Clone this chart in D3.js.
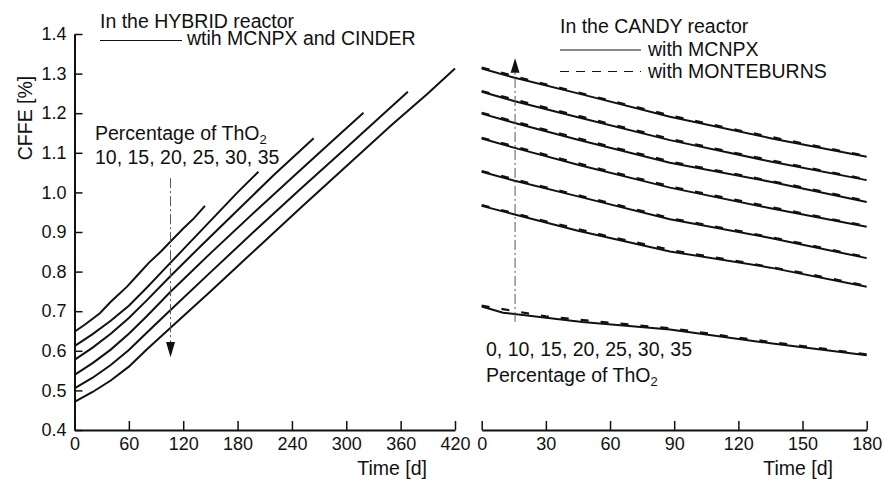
<!DOCTYPE html>
<meta charset="utf-8">
<html>
<head>
<title>CFFE</title>
<style>
  body { margin: 0; background: #fff; }
  text { font-family: "Liberation Sans", Arial, sans-serif; fill: #111; }
  .axis path, .axis line { stroke: #111; }
  .axis text { font-size: 18px; font-family: "Liberation Sans", Arial, sans-serif; fill: #111; }
</style>
<script src="https://cdn.jsdelivr.net/npm/d3@7/dist/d3.min.js"></script>
</head>
<body>
<script>
// HYBRID reactor, MCNPX + CINDER  [time d, CFFE %]
var hyb10 = [[0,0.648],[12,0.667],[28,0.695],[40,0.724],[58,0.762],[70,0.792],[82,0.822],[96,0.852],[106,0.876],[120,0.909],[132,0.935],[144,0.966]]
var hyb15 = [[0,0.612],[20,0.642],[40,0.676],[60,0.714],[80,0.760],[100,0.808],[120,0.856],[140,0.904],[160,0.952],[180,1.000],[203,1.052]]
var hyb20 = [[0,0.577],[20,0.608],[40,0.643],[60,0.683],[80,0.728],[106,0.789],[140,0.866],[180,0.955],[220,1.044],[264,1.137]]
var hyb25 = [[0,0.539],[20,0.569],[40,0.603],[60,0.643],[80,0.688],[106,0.749],[150,0.846],[200,0.953],[250,1.058],[290,1.141],[319,1.201]]
var hyb30 = [[0,0.505],[20,0.532],[40,0.564],[60,0.602],[80,0.646],[106,0.703],[150,0.798],[200,0.905],[250,1.010],[300,1.113],[340,1.196],[368,1.254]]
var hyb35 = [[0,0.471],[20,0.496],[40,0.525],[60,0.560],[80,0.604],[106,0.658],[150,0.750],[200,0.856],[250,0.962],[300,1.066],[350,1.170],[390,1.250],[420,1.313]]

// CANDY reactor, MCNPX
var mc0  = [[0,0.712],[10,0.696],[47,0.673],[88,0.654],[135,0.619],[180,0.589]]
var mc10 = [[0,0.966],[15,0.945],[45,0.903],[88,0.851],[135,0.810],[180,0.762]]
var mc15 = [[0,1.052],[15,1.030],[45,0.990],[88,0.932],[135,0.885],[180,0.834]]
var mc20 = [[0,1.136],[15,1.113],[45,1.070],[88,1.012],[135,0.960],[180,0.913]]
var mc25 = [[0,1.199],[15,1.176],[45,1.133],[88,1.075],[135,1.027],[180,0.976]]
var mc30 = [[0,1.254],[15,1.231],[45,1.190],[88,1.132],[135,1.078],[180,1.031]]
var mc35 = [[0,1.313],[15,1.290],[45,1.250],[88,1.191],[135,1.137],[180,1.090]]

// CANDY reactor, MONTEBURNS
var mbTime = [0, 30, 60, 90, 120, 150, 180]
var mb0  = [0.714, 0.687, 0.671, 0.656, 0.633, 0.612, 0.591]
var mb10 = [0.968, 0.927, 0.888, 0.853, 0.826, 0.797, 0.764]
var mb15 = [1.054, 1.013, 0.973, 0.933, 0.903, 0.871, 0.836]
var mb20 = [1.138, 1.095, 1.053, 1.013, 0.980, 0.947, 0.915]
var mb25 = [1.201, 1.158, 1.116, 1.076, 1.045, 1.013, 0.978]
var mb30 = [1.256, 1.214, 1.173, 1.133, 1.098, 1.065, 1.033]
var mb35 = [1.315, 1.273, 1.232, 1.192, 1.157, 1.124, 1.092]

var yTicks = [0.4, 0.5, 0.6, 0.7, 0.8, 0.9, 1.0, 1.1, 1.2, 1.3, 1.4]
var xTicksL = [0, 60, 120, 180, 240, 300, 360, 420]
var xTicksR = [0, 30, 60, 90, 120, 150, 180]

var svg = d3.select("body").append("svg")
    .attr("width", 884)
    .attr("height", 479)

var y = d3.scaleLinear().domain([0.4, 1.4]).range([430, 34])
var xL = d3.scaleLinear().domain([0, 420]).range([74.5, 455])
var xR = d3.scaleLinear().domain([0, 180]).range([481.7, 866.7])

// axes
function minorAxis(axis, scale, step, size){
    var d = scale.domain()
    return axis(scale).tickValues(d3.range(d[0], d[1] + 1e-9, step))
        .tickSizeInner(size).tickSizeOuter(0).tickFormat("")
}

var gy = svg.append("g").attr("class", "axis").attr("transform", "translate(74.5,0)")
gy.call(minorAxis(d3.axisLeft, y, 0.02, -5))
gy.call(d3.axisLeft(y).tickValues(yTicks).tickFormat(d3.format(".1f"))
    .tickSizeInner(-8).tickSizeOuter(0).tickPadding(8))
gy.selectAll("path").attr("stroke-width", 2)
gy.selectAll("line").attr("stroke-width", 1.5)

function bottomAxis(scale, ticks, minorStep){
    var g = svg.append("g").attr("class", "axis").attr("transform", "translate(0,430)")
    g.call(minorAxis(d3.axisBottom, scale, minorStep, -5))
    g.call(d3.axisBottom(scale).tickValues(ticks).tickFormat(d3.format("d"))
        .tickSizeInner(-9).tickSizeOuter(0).tickPadding(7))
    g.selectAll("path").attr("stroke-width", 2)
    g.selectAll("line").attr("stroke-width", 1.5)
    return g
}
bottomAxis(xL, xTicksL, 12)
bottomAxis(xR, xTicksR, 6)

// lines
var lineL = d3.line().x(d => xL(d[0])).y(d => y(d[1]))
var lineR = d3.line().x(d => xR(d[0])).y(d => y(d[1]))

svg.selectAll(".hyb")
    .data([hyb10, hyb15, hyb20, hyb25, hyb30, hyb35]).enter()
    .append("path")
    .attr("class", "hyb")
    .attr("d", lineL)
    .attr("fill", "none")
    .attr("stroke", "#111")
    .attr("stroke-width", 2)

svg.selectAll(".mc")
    .data([mc0, mc10, mc15, mc20, mc25, mc30, mc35]).enter()
    .append("path")
    .attr("class", "mc")
    .attr("d", lineR)
    .attr("fill", "none")
    .attr("stroke", "#111")
    .attr("stroke-width", 2)

svg.selectAll(".mb")
    .data([mb0, mb10, mb15, mb20, mb25, mb30, mb35].map(s => s.map((v, i) => [mbTime[i], v]))).enter()
    .append("path")
    .attr("class", "mb")
    .attr("d", lineR)
    .attr("fill", "none")
    .attr("stroke", "#111")
    .attr("stroke-width", 2.2)
    .attr("stroke-dasharray", "8,12")

// arrows
function arrow(x, yFrom, yTo, yBase){
    svg.append("line")
        .attr("x1", x).attr("x2", x)
        .attr("y1", y(yFrom)).attr("y2", y(yBase))
        .attr("stroke", "#555").attr("stroke-width", 1)
        .attr("stroke-dasharray", "10,3,2,3")
    svg.append("path")
        .attr("d", "M" + (x - 4.5) + "," + y(yBase) + "L" + (x + 4.5) + "," + y(yBase) + "L" + x + "," + y(yTo) + "Z")
        .attr("fill", "#111")
}
arrow(xL(106), 1.036, 0.584, 0.622)
arrow(xR(15.6), 0.673, 1.339, 1.302)

// texts
var fs = 19.5
function label(x, yy, txt, sub){
    var t = svg.append("text").attr("x", x).attr("y", yy).attr("font-size", fs).text(txt)
    if (sub) t.append("tspan").attr("font-size", 13).attr("dy", 4).text(sub)
    return t
}
label(100, 28, "In the HYBRID reactor")
svg.append("line").attr("x1", 100).attr("x2", 182).attr("y1", 40.5).attr("y2", 40.5)
    .attr("stroke", "#111").attr("stroke-width", 1)
label(187, 45, "wtih MCNPX and CINDER")
label(95, 140, "Percentage of ThO", "2")
label(95, 164, "10, 15, 20, 25, 30, 35")

label(560, 33, "In the CANDY reactor")
svg.append("line").attr("x1", 560).attr("x2", 641).attr("y1", 50).attr("y2", 50)
    .attr("stroke", "#111").attr("stroke-width", 1)
label(648, 56, "with MCNPX")
svg.append("line").attr("x1", 560).attr("x2", 641).attr("y1", 71.5).attr("y2", 71.5)
    .attr("stroke", "#111").attr("stroke-width", 1).attr("stroke-dasharray", "9,7")
label(648, 78, "with MONTEBURNS")
label(486, 356, "0, 10, 15, 20, 25, 30, 35")
label(486, 382, "Percentage of ThO", "2")

svg.append("text").attr("font-size", fs)
    .attr("transform", "translate(32,118) rotate(-90)")
    .attr("text-anchor", "middle")
    .text("CFFE [%]")
svg.append("text").attr("font-size", fs).attr("x", 427).attr("y", 475)
    .attr("text-anchor", "end").text("Time [d]")
svg.append("text").attr("font-size", fs).attr("x", 833).attr("y", 475)
    .attr("text-anchor", "end").text("Time [d]")
</script>
</body>
</html>
